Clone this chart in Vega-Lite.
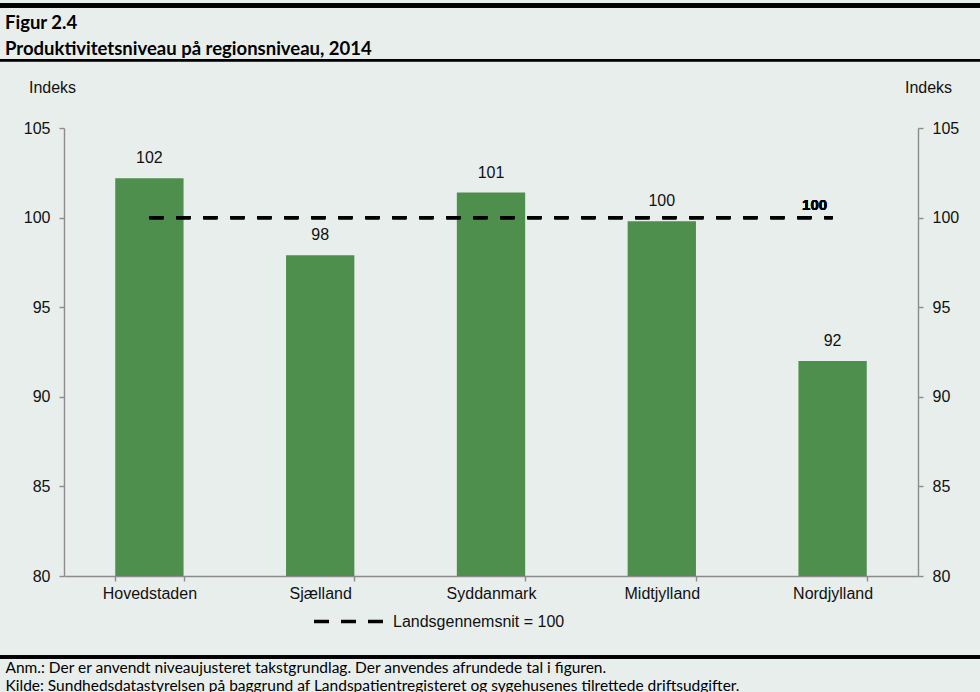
{
  "$schema": "https://vega.github.io/schema/vega-lite/v6.json",
  "width": 854,
  "height": 448,
  "autosize": {"type": "none"},
  "padding": {"left": 64, "top": 128, "right": 62, "bottom": 116},
  "background": "#E8EEEC",
  "config": {
    "view": {"stroke": null},
    "font": "Liberation Sans",
    "axis": {
      "domainColor": "#8c8c8c",
      "tickColor": "#8c8c8c",
      "domainWidth": 1.4,
      "tickWidth": 1.4,
      "tickSize": 5,
      "labelFontSize": 16,
      "labelColor": "#111",
      "labelFont": "Liberation Sans",
      "grid": false
    }
  },
  "title": {
    "text": ["Figur 2.4", "Produktivitetsniveau på regionsniveau, 2014"],
    "anchor": "start",
    "frame": "group",
    "dx": -59,
    "dy": 55,
    "offset": 0,
    "font": "Lato",
    "fontSize": 18.5,
    "fontWeight": "bold",
    "lineHeight": 26,
    "color": "#000"
  },
  "data": {
    "values": [
      {"region": "Hovedstaden", "value": 102.2},
      {"region": "Sjælland", "value": 97.9},
      {"region": "Syddanmark", "value": 101.4},
      {"region": "Midtjylland", "value": 99.8},
      {"region": "Nordjylland", "value": 92.0}
    ]
  },
  "layer": [
    {
      "layer": [
        {
          "mark": {"type": "bar", "color": "#4F8F4E"},
          "encoding": {
            "x": {
              "field": "region",
              "type": "nominal",
              "sort": null,
              "scale": {"paddingInner": 0.6, "paddingOuter": 0.3},
              "axis": {
                "labelAngle": 0,
                "tickBand": "extent",
                "labelPadding": 4,
                "title": [
                  "Anm.:  Der er anvendt niveaujusteret takstgrundlag. Der anvendes afrundede tal i figuren.",
                  "Kilde:  Sundhedsdatastyrelsen på baggrund af Landspatientregisteret og sygehusenes tilrettede driftsudgifter."
                ],
                "titleFont": "Lato",
                "titleFontSize": 15.5,
                "titleFontWeight": "normal",
                "titleColor": "#000",
                "titleAlign": "left",
                "titleAnchor": "start",
                "titleBaseline": "alphabetic",
                "titleLineHeight": 18,
                "titleLimit": 1000,
                "titleX": -59,
                "titleY": 96
              }
            },
            "y": {
              "field": "value",
              "type": "quantitative",
              "scale": {"domain": [80, 105], "nice": false, "zero": false},
              "axis": {
                "orient": "left",
                "values": [80, 85, 90, 95, 100, 105],
                "labelPadding": 9,
                "title": "Indeks",
                "titleAngle": 0,
                "titleAlign": "center",
                "titleBaseline": "alphabetic",
                "titleFontWeight": "normal",
                "titleFontSize": 16,
                "titleColor": "#111",
                "titleX": -12,
                "titleY": -36
              }
            },
            "y2": {"datum": 80}
          }
        },
        {
          "mark": {"type": "text", "dy": -15, "baseline": "alphabetic", "fontSize": 16, "color": "#111"},
          "encoding": {
            "x": {"field": "region", "type": "nominal", "sort": null},
            "y": {
              "field": "value",
              "type": "quantitative",
              "axis": {
                "orient": "right",
                "values": [80, 85, 90, 95, 100, 105],
                "labelPadding": 9,
                "title": "Indeks",
                "titleAngle": 0,
                "titleAlign": "center",
                "titleBaseline": "alphabetic",
                "titleFontWeight": "normal",
                "titleFontSize": 16,
                "titleColor": "#111",
                "titleX": 10,
                "titleY": -36
              }
            },
            "text": {"field": "value", "type": "quantitative", "format": ".0f"}
          }
        },
        {
          "mark": {"type": "rule", "strokeWidth": 3.3, "strokeDash": [14, 13]},
          "encoding": {
            "x": {"datum": "Hovedstaden"},
            "x2": {"datum": "Nordjylland"},
            "y": {"datum": 100, "axis": null},
            "color": {
              "datum": "Landsgennemsnit = 100",
              "scale": {"range": ["#000000"]},
              "legend": {
                "orient": "none",
                "legendX": 248,
                "legendY": 457,
                "title": null,
                "symbolType": "stroke",
                "symbolDash": [15, 12],
                "symbolStrokeWidth": 3.5,
                "symbolSize": 4761,
                "labelFontSize": 16,
                "labelColor": "#111",
                "labelOffset": 8,
                "labelLimit": 400
              }
            }
          }
        },
        {
          "mark": {"type": "text", "dx": -18, "dy": -8, "baseline": "alphabetic", "fontSize": 15, "fontWeight": "bold", "color": "#000"},
          "encoding": {
            "x": {"datum": "Nordjylland"},
            "y": {"datum": 100, "axis": null},
            "text": {"datum": 100}
          }
        }
      ],
      "resolve": {"axis": {"y": "independent"}}
    },
    {
      "mark": {"type": "rule", "strokeWidth": 4, "color": "#000"},
      "encoding": {
        "x": {"datum": -0.075, "type": "quantitative", "scale": {"domain": [0, 1], "nice": false, "zero": false}, "axis": null},
        "x2": {"datum": 1.073},
        "y": {"datum": 111.836, "axis": null}
      }
    },
    {
      "mark": {"type": "rule", "strokeWidth": 2, "color": "#000"},
      "encoding": {
        "x": {"datum": -0.075, "type": "quantitative", "scale": {"domain": [0, 1], "nice": false, "zero": false}, "axis": null},
        "x2": {"datum": 1.073},
        "y": {"datum": 108.778, "axis": null}
      }
    },
    {
      "mark": {"type": "rule", "strokeWidth": 3, "color": "#000"},
      "encoding": {
        "x": {"datum": -0.075, "type": "quantitative", "scale": {"domain": [0, 1], "nice": false, "zero": false}, "axis": null},
        "x2": {"datum": 1.073},
        "y": {"datum": 75.48, "axis": null}
      }
    }
  ],
  "resolve": {"scale": {"x": "independent"}, "axis": {"y": "independent"}}
}
